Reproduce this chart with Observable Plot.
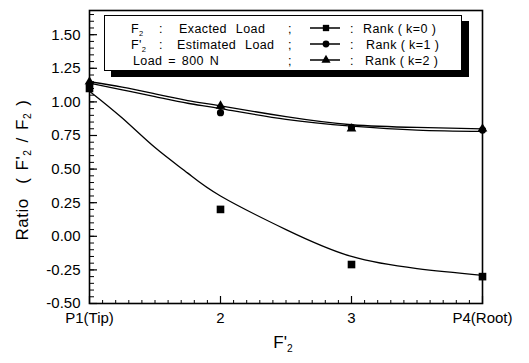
<!DOCTYPE html>
<html>
<head>
<meta charset="utf-8">
<script src="https://cdn.jsdelivr.net/npm/d3@7"></script>
<script src="https://cdn.jsdelivr.net/npm/@observablehq/plot@0.6"></script>
<style>
  html, body { margin: 0; padding: 0; background: white; }
  #wrap { position: relative; width: 529px; height: 363px; font-family: Arial, "Liberation Sans", Helvetica, sans-serif; color: black; overflow: hidden; }
  #chart { position: absolute; left: 0; top: 0; }
  #legend { position: absolute; left: 104px; top: 15px; width: 356px; height: 54px; border: 1.5px solid black; background: white; box-shadow: 7px 6px 0 black; font-size: 12.5px; letter-spacing: 0.4px; }
  #legend span { position: absolute; white-space: nowrap; line-height: 1; }
  #legend svg { position: absolute; }
  sub { font-size: 0.6em; vertical-align: -0.35em; }
  .ylab { position: absolute; left: 23px; top: 170px; transform: translate(-50%, -50%) rotate(-90deg); font-size: 17px; white-space: nowrap; letter-spacing: 0.5px; word-spacing: 2px; }
  .xlab { position: absolute; left: 283px; top: 333px; transform: translateX(-50%); font-size: 17px; white-space: nowrap; }
</style>
</head>
<body>
<div id="wrap">
  <div id="chart"></div>
  <div id="legend"></div>
  <div class="ylab">Ratio&nbsp; ( F'<sub>2</sub> / F<sub>2</sub> )</div>
  <div class="xlab">F'<sub>2</sub></div>
</div>
<script>
// Positions along the blade and their labels
const positions = [1, 2, 3, 4];
const positionLabels = ["P1(Tip)", "2", "3", "P4(Root)"];

// Measured ratios (markers)
const rankK0 = [1.10, 0.20, -0.21, -0.30];
const rankK1 = [1.12, 0.92, 0.81, 0.79];
const rankK2 = [1.15, 0.97, 0.80, 0.80];

// Fitted curves
const fitX  = [1, 1.25, 1.5, 1.75, 2, 2.5, 3, 3.5, 4];
const fitK0 = [1.08, 0.88, 0.66, 0.47, 0.30, 0.05, -0.15, -0.24, -0.29];
const fitK1 = [1.14, 1.09, 1.04, 0.99, 0.95, 0.87, 0.82, 0.79, 0.78];
const fitK2 = [1.15, 1.11, 1.06, 1.01, 0.97, 0.89, 0.83, 0.81, 0.80];

// Axis ticks
const yTicks = d3.range(-0.5, 1.5001, 0.25);
const yMinor = d3.range(-0.5, 1.66, 0.05);
const xMinor = d3.range(1, 4.001, 0.1);

// Legend texts
const legendLeft = [["F", "2", "Exacted Load"], ["F'", "2", "Estimated Load"], ["Load = 800 N", "", ""]];
const legendRight = ["Rank ( k=0 )", "Rank ( k=1 )", "Rank ( k=2 )"];
const legendSymbols = ["square", "circle", "triangle"];

const W = 529, H = 363, ML = 89, MR = 47, MT = 10, MB = 60;
const innerW = W - ML - MR, innerH = H - MT - MB;

const pts = (xs, ys) => xs.map((x, i) => ({x, y: ys[i]}));

const chart = Plot.plot({
  width: W,
  height: H,
  marginLeft: ML,
  marginRight: MR,
  marginTop: MT,
  marginBottom: MB,
  x: {domain: [1, 4]},
  y: {domain: [-0.5, 1.68]},
  style: {fontFamily: "Arial, 'Liberation Sans', sans-serif", fontSize: "15px", color: "black", background: "white"},
  marks: [
    Plot.axisY(yTicks, {tickSize: 0, tickPadding: 9, tickFormat: d => d.toFixed(2), label: null, fontSize: 15}),
    // inward ticks: right-anchored axes shifted onto the left edge
    Plot.axisY(yTicks, {anchor: "right", dx: -innerW, tickSize: 7, strokeWidth: 1.2, tickFormat: () => "", label: null}),
    Plot.axisY(yMinor, {anchor: "right", dx: -innerW, tickSize: 4, tickFormat: () => "", label: null}),
    Plot.axisX(positions, {tickSize: 0, tickPadding: 9, tickFormat: (d, i) => positionLabels[i], label: null, fontSize: 15}),
    // inward ticks: top-anchored axes shifted onto the bottom edge
    Plot.axisX(positions, {anchor: "top", dy: innerH, tickSize: 8, strokeWidth: 1.2, tickFormat: () => "", label: null}),
    Plot.axisX(xMinor, {anchor: "top", dy: innerH, tickSize: 4, tickFormat: () => "", label: null}),
    Plot.line(pts(fitX, fitK0), {x: "x", y: "y", curve: "natural", stroke: "black", strokeWidth: 1.3}),
    Plot.line(pts(fitX, fitK1), {x: "x", y: "y", curve: "natural", stroke: "black", strokeWidth: 1.3}),
    Plot.line(pts(fitX, fitK2), {x: "x", y: "y", curve: "natural", stroke: "black", strokeWidth: 1.3}),
    Plot.dot(pts(positions, rankK0), {x: "x", y: "y", symbol: "square", fill: "black", r: 4.3}),
    Plot.dot(pts(positions, rankK1), {x: "x", y: "y", symbol: "circle", fill: "black", r: 3.6}),
    Plot.dot(pts(positions, rankK2), {x: "x", y: "y", symbol: "triangle", fill: "black", r: 3.6}),
    Plot.frame({stroke: "black", strokeWidth: 1.6})
  ]
});
document.getElementById("chart").appendChild(chart);

// Legend
const leg = document.getElementById("legend");
const rowY = [7, 23, 39];
legendLeft.forEach((row, i) => {
  const [a, sub, desc] = row;
  const add = (left, html, extra) => {
    const s = document.createElement("span");
    s.style.left = left + "px"; s.style.top = rowY[i] + "px";
    s.innerHTML = html;
    if (extra) Object.assign(s.style, extra);
    leg.appendChild(s);
  };
  add(i === 2 ? 28 : 26, sub ? `${a}<sub>${sub}</sub>` : a, i === 2 ? {wordSpacing: "2px"} : null);
  if (desc) {
    add(54, ":");
    add(i === 0 ? 74 : 72, desc, {wordSpacing: "5px"});
  }
  add(183, ";");
  add(245, ":");
  add(258 + (i === 1 ? 3 : i === 2 ? 2 : 0), legendRight[i]);
  const svg = d3.create("svg").attr("width", 30).attr("height", 12)
    .style("left", "205px").style("top", (rowY[i] - 1) + "px");
  svg.append("line").attr("x1", 0).attr("x2", 30).attr("y1", 6).attr("y2", 6).attr("stroke", "black").attr("stroke-width", 1.5);
  const sym = {square: d3.symbolSquare, circle: d3.symbolCircle, triangle: d3.symbolTriangle}[legendSymbols[i]];
  svg.append("path").attr("d", d3.symbol(sym, legendSymbols[i] === "square" ? 40 : 36)()).attr("transform", "translate(16,6)").attr("fill", "black");
  leg.appendChild(svg.node());
});
</script>
</body>
</html>
